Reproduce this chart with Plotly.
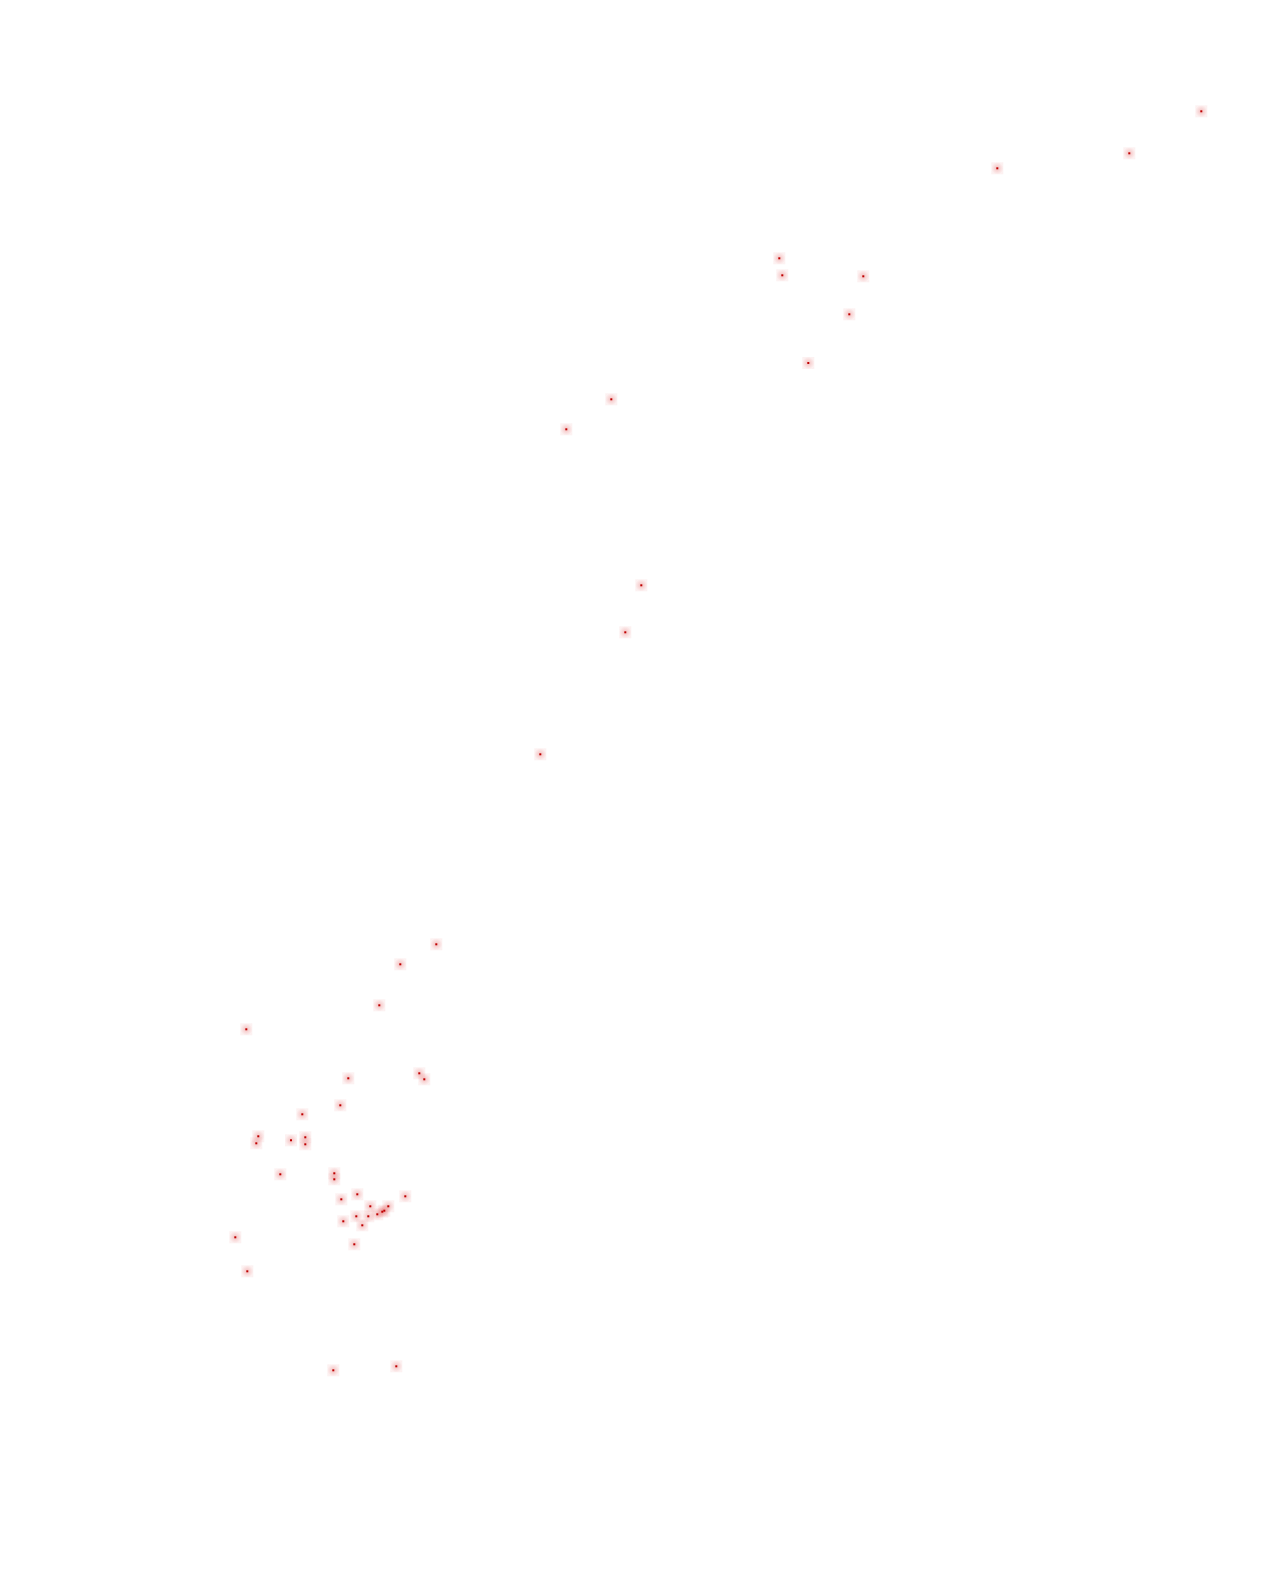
import plotly.graph_objects as go

# Point positions (page pixels, y grows downward)
x_vals = [1201.3, 1129.3, 997.3, 779.3, 782.3, 863.3, 849.3, 808.3, 611.3,
          566.3, 641.3, 625.3, 540.3, 436.3, 400.3, 379.3, 246.3, 419.3,
          424.3, 348.3, 340.3, 302.3, 258.3, 256.3, 291.0, 305.3, 305.3,
          280.3, 334.3, 334.3, 357.3, 405.3, 341.3, 370.3, 388.3, 384.3,
          382.3, 377.3, 368.3, 356.3, 343.3, 362.3, 235.3, 354.3, 247.3,
          333.3, 396.3]
y_vals = [111.3, 153.3, 168.3, 258.3, 275.3, 276.3, 314.3, 363.0, 399.3,
          429.3, 585.3, 632.3, 754.3, 944.3, 964.3, 1005.3, 1029.3, 1073.3,
          1079.3, 1078.3, 1105.3, 1114.3, 1136.3, 1143.3, 1140.3, 1137.3,
          1144.3, 1174.3, 1173.3, 1179.3, 1194.3, 1196.3, 1199.3, 1206.3,
          1206.3, 1210.7, 1211.7, 1214.3, 1216.3, 1216.3, 1221.3, 1225.3,
          1237.3, 1244.3, 1271.3, 1370.3, 1366.3]

PAGE_OFFSET = 8  # the page body margin shifts the plot by this much

fig = go.Figure()

# soft pink halo round each point
fig.add_trace(go.Scatter(
    x=x_vals, y=y_vals, mode='markers', hoverinfo='skip',
    marker=dict(symbol='square', size=12, color='rgba(220,60,60,0.07)',
                gradient=dict(type='radial', color='rgba(220,60,60,0.32)'),
                line=dict(width=0))))

# the red dot in the middle
fig.add_trace(go.Scatter(
    x=x_vals, y=y_vals, mode='markers',
    marker=dict(symbol='square', size=2, color='rgb(190,0,0)',
                line=dict(width=0))))

fig.update_layout(
    width=1277, height=1580, showlegend=False,
    margin=dict(l=0, r=0, t=0, b=0),
    paper_bgcolor='white', plot_bgcolor='white',
    xaxis=dict(range=[PAGE_OFFSET, 1277 + PAGE_OFFSET], visible=False,
               fixedrange=True),
    yaxis=dict(range=[1580 + PAGE_OFFSET, PAGE_OFFSET], visible=False,
               fixedrange=True))

fig.write_html("out.html")
